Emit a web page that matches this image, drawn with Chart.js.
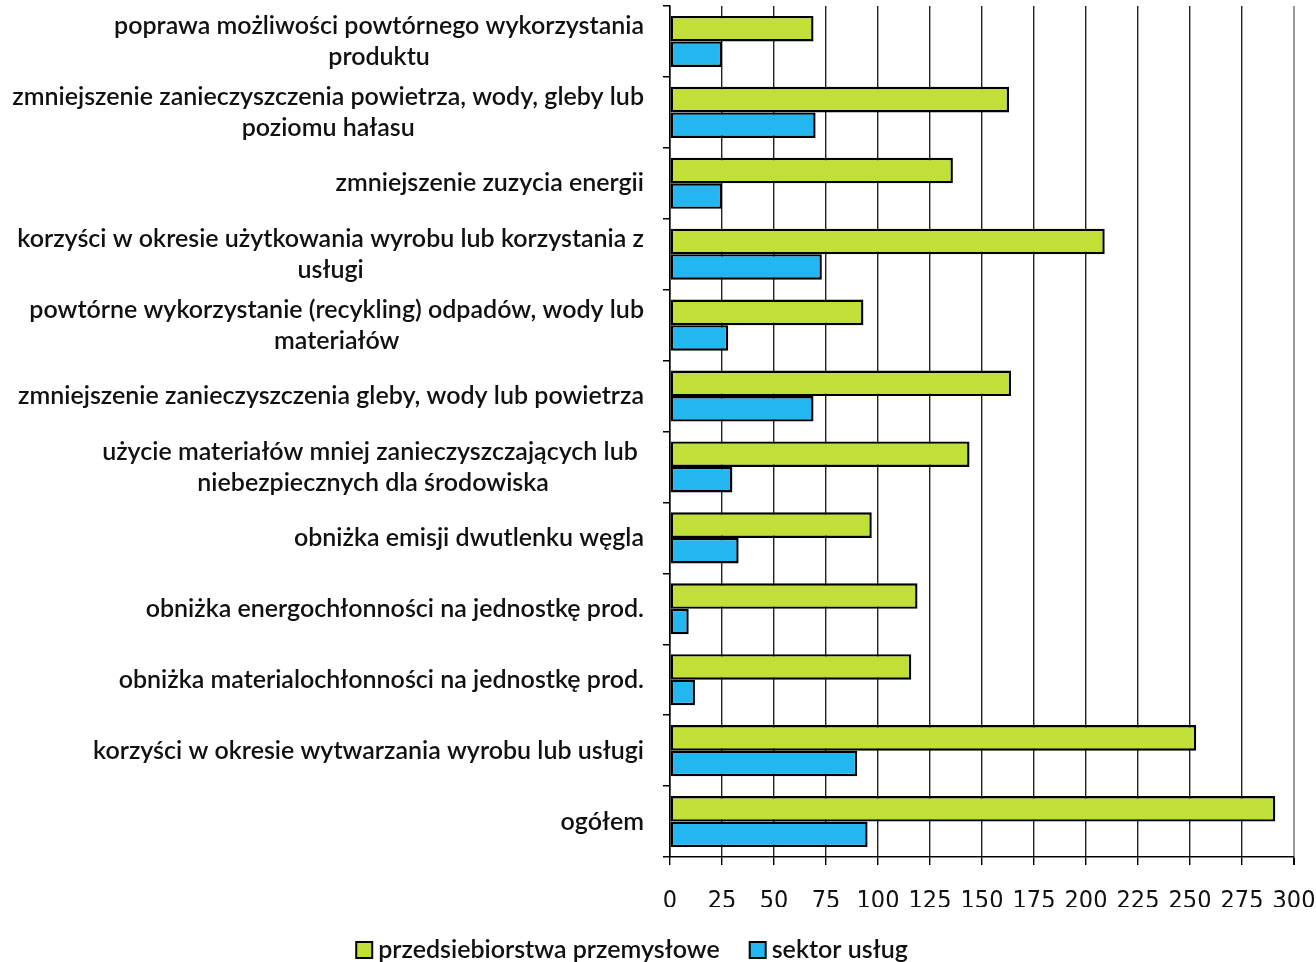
<!DOCTYPE html>
<html><head><meta charset="utf-8">
<script src="https://cdn.jsdelivr.net/npm/chart.js@4/dist/chart.umd.min.js"></script>
<style>html,body{margin:0;padding:0;background:#fff;} #wrap{width:1316px;height:962px;position:relative;}</style>
</head><body><div id="wrap"><canvas id="c"></canvas></div>
<script>
const categories = [
  ["poprawa możliwości powtórnego wykorzystania", "produktu"],
  ["zmniejszenie zanieczyszczenia powietrza, wody, gleby lub", "poziomu hałasu"],
  "zmniejszenie zuzycia energii",
  ["korzyści w okresie użytkowania wyrobu lub korzystania z", "usługi"],
  ["powtórne wykorzystanie (recykling) odpadów, wody lub", "materiałów"],
  "zmniejszenie zanieczyszczenia gleby, wody lub powietrza",
  ["użycie materiałów mniej zanieczyszczających lub ", "niebezpiecznych dla środowiska"],
  "obniżka emisji dwutlenku węgla",
  "obniżka energochłonności na jednostkę prod.",
  "obniżka materialochłonności na jednostkę prod.",
  "korzyści w okresie wytwarzania wyrobu lub usługi",
  "ogółem"
];
const seriesNames = ["przedsiebiorstwa przemysłowe", "sektor usług"];
const industry = [69, 163, 136, 209, 93, 164, 144, 97, 119, 116, 253, 291];
const services = [25, 70, 25, 73, 28, 69, 30, 33, 9, 12, 90, 95];
const xTickValues = [0, 25, 50, 75, 100, 125, 150, 175, 200, 225, 250, 275, 300];

const LABEL_FONT = '600 25px Lato, "Open Sans", sans-serif';
const labelPlugin = {
  id: 'catLabels',
  afterDraw(chart) {
    const ys = chart.scales.y;
    const ctx = chart.ctx;
    const right = chart.chartArea.left - 26;
    ctx.save();
    ctx.font = LABEL_FONT;
    ctx.fillStyle = '#111';
    ctx.textBaseline = 'middle';
    ctx.textAlign = 'center';
    categories.forEach((lab, i) => {
      const lines = Array.isArray(lab) ? lab : [lab];
      const y = ys.getPixelForValue(i);
      const maxW = Math.max(...lines.map(l => ctx.measureText(l).width));
      const cx = right - maxW / 2;
      const lh = 31;
      lines.forEach((l, j) => {
        ctx.fillText(l, cx, y + (j - (lines.length - 1) / 2) * lh);
      });
    });
    ctx.restore();
  }
};

// legend drawn from the chart's datasets
const legendPlugin = {
  id: 'bottomLegend',
  afterDraw(chart) {
    const ctx = chart.ctx;
    const ds = chart.data.datasets;
    ctx.save();
    ctx.font = '600 25px Lato, "Open Sans", sans-serif';
    ctx.textBaseline = 'middle';
    ctx.textAlign = 'left';
    const box = 16, gapText = 6, gapItem = 30;
    const widths = ds.map(d => box + gapText + ctx.measureText(d.label).width);
    const total = widths.reduce((a, b) => a + b, 0) + gapItem * (ds.length - 1);
    let x = 632 - total / 2;
    const y = 950;
    ds.forEach((d, i) => {
      ctx.fillStyle = d.backgroundColor;
      ctx.fillRect(x, y - box / 2, box, box);
      ctx.strokeStyle = '#000';
      ctx.lineWidth = 2;
      ctx.strokeRect(x, y - box / 2, box, box);
      ctx.fillStyle = '#111';
      ctx.fillText(d.label, x + box + gapText, y);
      x += widths[i] + gapItem;
    });
    ctx.restore();
  }
};

new Chart(document.getElementById('c'), {
  type: 'bar',
  data: {
    labels: categories.map(c => Array.isArray(c) ? c.join(' ') : c),
    datasets: [
      { label: seriesNames[0], data: industry, backgroundColor: '#C0E037', borderColor: '#000', borderWidth: 2.4, borderSkipped: false, categoryPercentage: 0.72, barPercentage: 1.0 },
      { label: seriesNames[1], data: services, backgroundColor: '#23B7F1', borderColor: '#000', borderWidth: 2.4, borderSkipped: false, categoryPercentage: 0.72, barPercentage: 1.0 }
    ]
  },
  options: {
    indexAxis: 'y',
    responsive: true,
    maintainAspectRatio: false,
    animation: false,
    layout: { padding: { left: 0, right: 22, top: 6, bottom: 55 } },
    plugins: {
      tooltip: { enabled: false },
      legend: { display: false }
    },
    scales: {
      x: {
        type: 'linear',
        min: 0, max: 300,
        afterBuildTicks(s) { s.ticks = xTickValues.map(v => ({ value: v })); },
        ticks: {
          font: { family: '"Liberation Sans Narrow", "DejaVu Sans Condensed", sans-serif', size: 25 },
          color: '#111',
          padding: 21,
          maxRotation: 0,
          autoSkip: false
        },
        grid: {
          color: (c) => (c.tick && c.tick.value === 300) ? '#999' : '#222',
          lineWidth: (c) => (c.tick && c.tick.value === 300) ? 2 : 1.4,
          tickLength: 8,
          tickColor: '#000'
        },
        border: { color: '#000', width: 1.5 },
        afterFit(s) { s.height = 50; s.paddingRight = 0; s.paddingLeft = 0; }
      },
      y: {
        type: 'category',
        offset: true,
        ticks: { display: false, autoSkip: false },
        grid: { drawOnChartArea: false, drawTicks: true, tickLength: 7, color: '#000', lineWidth: 1.5, offset: true },
        border: { color: '#000', width: 1.5 },
        afterFit(s) { s.width = 670; }
      }
    }
  },
  plugins: [labelPlugin, legendPlugin]
});
</script></body></html>
